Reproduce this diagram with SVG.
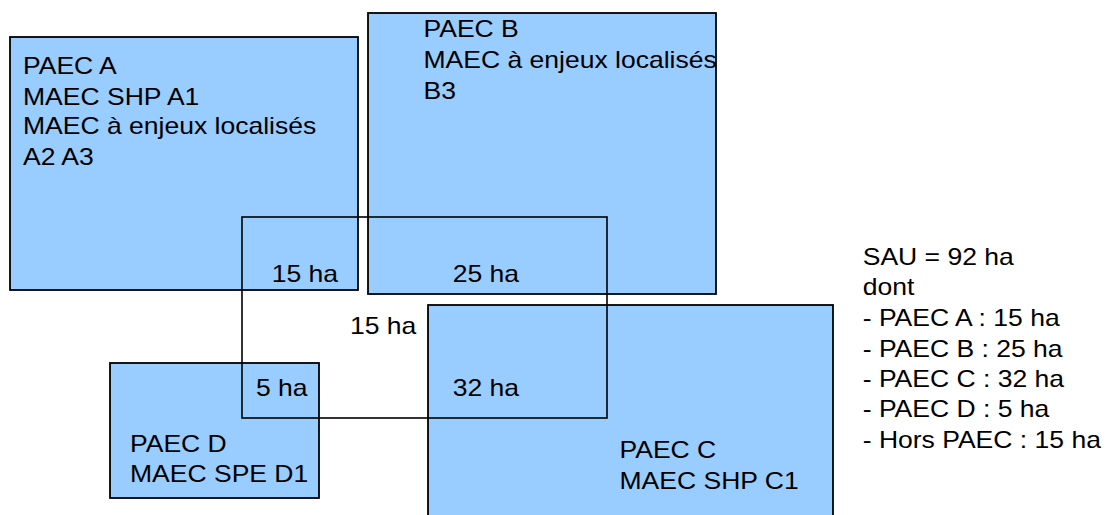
<svg xmlns="http://www.w3.org/2000/svg" width="1107" height="515" viewBox="0 0 1107 515">
<style>
.box{fill:#99ccff;stroke:#000;stroke-width:1.8}
.frame{fill:none;stroke:#000;stroke-width:1.6}
text{font-family:"Liberation Sans",Arial,sans-serif;font-size:24px;fill:#000}
</style>
<rect width="1107" height="515" fill="#fff"/>
<g id="paec-a">
<rect class="box" x="10" y="37" width="348" height="253"/>
<text transform="translate(23,74) scale(1.105 1)"><tspan x="0" y="0">PAEC A</tspan><tspan x="0" y="30.7">MAEC SHP A1</tspan><tspan x="0" y="60.5">MAEC à enjeux localisés</tspan><tspan x="0" y="91.5">A2 A3</tspan></text>
</g>
<g id="paec-b">
<rect class="box" x="368" y="13" width="348" height="281"/>
<text transform="translate(423.5,36.7) scale(1.105 1)"><tspan x="0" y="0">PAEC B</tspan><tspan x="0" y="31.3">MAEC à enjeux localisés</tspan><tspan x="0" y="62.3">B3</tspan></text>
</g>
<g id="paec-c">
<rect class="box" x="428" y="305" width="405" height="215"/>
<text transform="translate(619.5,458.3) scale(1.105 1)"><tspan x="0" y="0">PAEC C</tspan><tspan x="0" y="30.7">MAEC SHP C1</tspan></text>
</g>
<g id="paec-d">
<rect class="box" x="110" y="363" width="209" height="135"/>
<text transform="translate(130,451.7) scale(1.105 1)"><tspan x="0" y="0">PAEC D</tspan><tspan x="0" y="30.6">MAEC SPE D1</tspan></text>
</g>
<g id="exploitation">
<rect class="frame" x="242" y="217" width="365" height="201"/>
<text transform="translate(271.7,281.7) scale(1.105 1)">15 ha</text>
<text transform="translate(452.7,282) scale(1.105 1)">25 ha</text>
<text transform="translate(350,334) scale(1.105 1)">15 ha</text>
<text transform="translate(256,396) scale(1.105 1)">5 ha</text>
<text transform="translate(452.7,396) scale(1.105 1)">32 ha</text>
</g>
<g id="legend">
<text transform="translate(862.7,265) scale(1.105 1)"><tspan x="0" y="0">SAU = 92 ha</tspan><tspan x="0" y="30">dont</tspan><tspan x="0" y="61">- PAEC A : 15 ha</tspan><tspan x="0" y="91.7">- PAEC B : 25 ha</tspan><tspan x="0" y="121.7">- PAEC C : 32 ha</tspan><tspan x="0" y="151.7">- PAEC D : 5 ha</tspan><tspan x="0" y="182.7">- Hors PAEC : 15 ha</tspan></text>
</g>
<g id="connectors"/>
</svg>
